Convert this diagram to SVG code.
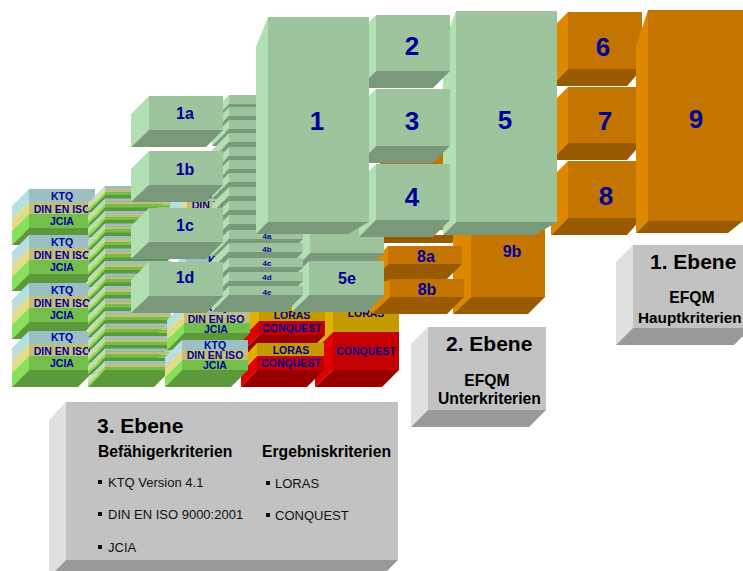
<svg xmlns="http://www.w3.org/2000/svg" width="743" height="571" viewBox="0 0 743 571">
<style>
text{font-family:"Liberation Sans",Arial,sans-serif;text-anchor:middle;font-weight:700;fill:#000099}
.gf{fill:#9DC49D}.gs{fill:#B2E0B2}.gb{fill:#7A997A}
.of{fill:#C47400}.os{fill:#E08700}.ob{fill:#995A00}
.yf{fill:#C2C2C2}.ys{fill:#E0E0E0}.yb{fill:#999999}
.kf{fill:#9CBFC4}.ks{fill:#B5DFE0}.df{fill:#C4BF77}.ds{fill:#E0DC88}.jf{fill:#74BF4B}.js{fill:#86E05A}.jb{fill:#5C993B}
.lf{fill:#C49A00}.ls{fill:#E0B000}.cf{fill:#C40000}.cs{fill:#E00000}.cb{fill:#990000}
.t26{font-size:26px}.t16{font-size:16px}.t8{font-size:8px}.t105{font-size:10.5px}
.h{font-size:21px;fill:#000;text-anchor:start}.s{font-size:15.7px;fill:#000}.st{font-size:15.7px;fill:#000;text-anchor:start}
.li{font-size:13px;font-weight:400;fill:#111;text-anchor:start}
.bu{fill:#111}
</style>
<defs>
<g id="thin">
<polygon class="ks" points="0,0 -17,17 -17,20 0,3"/><polygon class="ds" points="0,3 -17,20 -17,23 0,6"/><polygon class="js" points="0,6 -17,23 -17,26 0,9"/>
<polygon class="jb" points="0,9 66,9 49,26 -17,26"/>
<rect class="kf" width="66" height="3"/><rect class="df" y="3" width="66" height="3"/><rect class="jf" y="6" width="66" height="3"/>
</g>
<g id="big">
<polygon class="ks" points="0,0 -17,17 -17,30 0,13"/><polygon class="ds" points="0,13 -17,30 -17,42 0,25"/><polygon class="js" points="0,25 -17,42 -17,56 0,39"/>
<polygon class="jb" points="0,39 66,39 49,56 -17,56"/>
<rect class="kf" width="66" height="13"/><rect class="df" y="13" width="66" height="12"/><rect class="jf" y="25" width="66" height="14"/>
</g>
<g id="small">
<polygon class="ks" points="0,0 -17,17 -17,27 0,10"/><polygon class="ds" points="0,10 -17,27 -17,37 0,20"/><polygon class="js" points="0,20 -17,37 -17,47 0,30"/>
<polygon class="jb" points="0,30 66,30 49,47 -17,47"/>
<rect class="kf" width="66" height="10"/><rect class="df" y="10" width="66" height="10"/><rect class="jf" y="20" width="66" height="10"/>
</g>
<g id="gthin">
<polygon class="gs" points="0,0 -17,17 -17,26 0,9"/>
<polygon class="gb" points="0,9 74,9 57,26 -17,26"/>
<rect class="gf" width="74" height="9"/>
</g>
</defs>

<g id="column-1">
<g id="c1a"><use href="#big" x="29" y="189"/><text class="t105" x="62" y="200">KTQ</text><text class="t105" x="62" y="213">DIN EN ISO</text><text class="t105" x="62" y="225">JCIA</text></g>
<g id="c1b"><use href="#big" x="29" y="235"/><text class="t105" x="62" y="246">KTQ</text><text class="t105" x="62" y="259">DIN EN ISO</text><text class="t105" x="62" y="271">JCIA</text></g>
<g id="c1c"><use href="#big" x="29" y="283"/><text class="t105" x="62" y="294">KTQ</text><text class="t105" x="62" y="307">DIN EN ISO</text><text class="t105" x="62" y="319">JCIA</text></g>
<g id="c1d"><use href="#big" x="29" y="331"/><text class="t105" x="62" y="341">KTQ</text><text class="t105" x="62" y="355">DIN EN ISO</text><text class="t105" x="62" y="367">JCIA</text></g>
</g>

<g id="column-2">
<use href="#thin" x="105" y="186"/><use href="#thin" x="105" y="198.5"/><use href="#thin" x="105" y="211"/><use href="#thin" x="105" y="223.5"/><use href="#thin" x="105" y="236"/><use href="#thin" x="105" y="248.5"/><use href="#thin" x="105" y="261"/><use href="#thin" x="105" y="273.5"/><use href="#thin" x="105" y="286"/><use href="#thin" x="105" y="298.5"/><use href="#thin" x="105" y="311"/><use href="#thin" x="105" y="323.5"/><use href="#thin" x="105" y="336"/><use href="#thin" x="105" y="348.5"/><use href="#thin" x="105" y="361"/>
</g>

<g id="red-right">
<polygon class="ls" points="333,280 315,298 315,350 333,332"/><polygon class="cs" points="333,332 315,350 315,387 333,370"/>
<polygon class="cb" points="333,370 399,370 382,387 315,387"/>
<rect class="lf" x="333" y="280" width="66" height="52"/><rect class="cf" x="333" y="332" width="66" height="38"/>
<text class="t105" x="366" y="317">LORAS</text><text class="t105" x="366" y="355">CONQUEST</text>
</g>
<g id="red-upper">
<polygon class="ls" points="259,303 242,320 242,338 259,321"/><polygon class="cs" points="259,321 242,338 242,352 259,335"/>
<polygon class="cb" points="259,335 325,335 308,352 242,352"/>
<rect class="lf" x="259" y="303" width="66" height="18"/><rect class="cf" x="259" y="321" width="66" height="14"/>
<text class="t105" x="292" y="319">LORAS</text><text class="t105" x="292" y="332">CONQUEST</text>
</g>
<g id="red-lower">
<polygon class="ls" points="257,343 241,360 241,373 257,356"/><polygon class="cs" points="257,356 241,373 241,387 257,370"/>
<polygon class="cb" points="257,370 324,370 307,387 241,387"/>
<rect class="lf" x="257" y="343" width="67" height="13"/><rect class="cf" x="257" y="356" width="67" height="14"/>
<text class="t105" x="291" y="354">LORAS</text><text class="t105" x="291" y="367">CONQUEST</text>
</g>

<g id="column-3">
<g id="c3a"><use href="#big" x="187" y="187"/><text class="t105" x="220" y="198">KTQ</text><text class="t105" x="220" y="209">DIN EN ISO</text><text class="t105" x="220" y="223">JCIA</text></g>
<g id="c3b"><use href="#big" x="186" y="253"/><text class="t105" x="219" y="264">KTQ</text><text class="t105" x="219" y="277">DIN EN ISO</text><text class="t105" x="219" y="289">JCIA</text></g>
<g id="c3c"><use href="#small" x="184" y="303"/><text class="t105" x="216" y="311">KTQ</text><text class="t105" x="216" y="323">DIN EN ISO</text><text class="t105" x="216" y="333">JCIA</text></g>
<g id="c3d"><use href="#small" x="182" y="340"/><text class="t105" x="215" y="349">KTQ</text><text class="t105" x="215" y="359">DIN EN ISO</text><text class="t105" x="215" y="369">JCIA</text></g>
</g>

<g id="orange-back">
<rect class="of" x="380" y="140" width="64" height="90"/>
<polygon class="ob" points="384,235 460,235 452,243 384,243"/>
</g>
<g id="n9b">
<polygon class="os" points="471,218 453,235 453,314 471,297"/>
<polygon class="ob" points="471,297 545,297 528,314 453,314"/>
<rect class="of" x="471" y="218" width="74" height="79"/>
<text class="t16" x="512" y="257">9b</text>
</g>
<g id="n8a">
<polygon class="os" points="388,246 371,263 371,281 388,264"/>
<polygon class="ob" points="388,264 462,264 445,281 371,281"/>
<rect class="of" x="388" y="246" width="74" height="18"/>
<text class="t16" x="426" y="262">8a</text>
</g>
<g id="n8b">
<polygon class="os" points="390,279 372,296 372,314 390,297"/>
<polygon class="ob" points="390,297 464,297 447,314 372,314"/>
<rect class="of" x="390" y="279" width="74" height="18"/>
<text class="t16" x="427" y="295">8b</text>
</g>

<g id="n5d">
<polygon class="gs" points="310,200 293,217 293,270 310,253"/>
<polygon class="gb" points="310,253 384,253 367,270 293,270"/>
<rect class="gf" x="310" y="200" width="74" height="53"/>
</g>
<g id="n5e">
<polygon class="gs" points="309,261 292,278 292,312 309,295"/>
<polygon class="gb" points="309,295 384,295 367,312 292,312"/>
<rect class="gf" x="309" y="261" width="75" height="34"/>
<text class="t16" x="347" y="284">5e</text>
</g>

<g id="stack-4">
<use href="#gthin" x="229" y="95"/><use href="#gthin" x="229" y="107"/><use href="#gthin" x="229" y="120"/><use href="#gthin" x="229" y="133"/><use href="#gthin" x="229" y="147"/><use href="#gthin" x="229" y="160"/><use href="#gthin" x="229" y="173"/><use href="#gthin" x="229" y="187"/><use href="#gthin" x="229" y="201"/><use href="#gthin" x="229" y="215"/>
<g id="n4a"><use href="#gthin" x="229" y="230"/><text class="t8" x="267" y="239">4a</text></g>
<g id="n4b"><use href="#gthin" x="229" y="243"/><text class="t8" x="267" y="252">4b</text></g>
<g id="n4c"><use href="#gthin" x="229" y="258"/><text class="t8" x="267" y="266">4c</text></g>
<g id="n4d"><use href="#gthin" x="229" y="272"/><text class="t8" x="267" y="280">4d</text></g>
<g id="n4e"><use href="#gthin" x="229" y="286"/><text class="t8" x="267" y="295">4e</text></g>
</g>

<g id="n1a">
<polygon class="gs" points="149,96 131,114 131,147 149,130"/>
<polygon class="gb" points="149,130 223,130 206,147 131,147"/>
<rect class="gf" x="149" y="96" width="74" height="34"/>
<text class="t16" x="185" y="119">1a</text>
</g>
<g id="n1b">
<polygon class="gs" points="149,151 131,169 131,202 149,185"/>
<polygon class="gb" points="149,185 223,185 206,202 131,202"/>
<rect class="gf" x="149" y="151" width="74" height="34"/>
<text class="t16" x="185" y="175">1b</text>
</g>
<g id="n1c">
<polygon class="gs" points="149,208 131,226 131,259 149,242"/>
<polygon class="gb" points="149,242 223,242 206,259 131,259"/>
<rect class="gf" x="149" y="208" width="74" height="34"/>
<text class="t16" x="185" y="231">1c</text>
</g>
<g id="n1d">
<polygon class="gs" points="149,262 131,280 131,313 149,296"/>
<polygon class="gb" points="149,296 223,296 206,313 131,313"/>
<rect class="gf" x="149" y="262" width="74" height="34"/>
<text class="t16" x="185" y="283">1d</text>
</g>

<g id="n6">
<polygon class="os" points="568,12 551,29 551,86 568,69"/>
<polygon class="ob" points="568,69 642,69 627,86 551,86"/>
<rect class="of" x="568" y="12" width="74" height="57"/>
<text class="t26" x="603" y="56">6</text>
</g>
<g id="n7">
<polygon class="os" points="568,87 551,104 551,160 568,143"/>
<polygon class="ob" points="568,143 642,143 627,160 551,160"/>
<rect class="of" x="568" y="87" width="74" height="56"/>
<text class="t26" x="605" y="130">7</text>
</g>
<g id="n8">
<polygon class="os" points="568,161 551,178 551,235 568,218"/>
<polygon class="ob" points="568,218 642,218 627,235 551,235"/>
<rect class="of" x="568" y="161" width="74" height="57"/>
<text class="t26" x="606" y="205">8</text>
</g>
<g id="n9">
<polygon class="os" points="648,10 636,46 636,233 648,221"/>
<polygon class="ob" points="648,221 743,221 728,233 636,233"/>
<rect class="of" x="648" y="10" width="95" height="211"/>
<text class="t26" x="696" y="128">9</text>
</g>

<g id="n5">
<polygon class="gs" points="456,11 443,46 443,235 456,222"/>
<polygon class="gb" points="456,222 557,222 535,235 443,235"/>
<rect class="gf" x="456" y="11" width="101" height="211"/>
<text class="t26" x="505" y="129">5</text>
</g>
<g id="n2">
<polygon class="gs" points="376,15 359,32 359,88 376,71"/>
<polygon class="gb" points="376,71 450,71 433,88 359,88"/>
<rect class="gf" x="376" y="15" width="74" height="56"/>
<text class="t26" x="412" y="55">2</text>
</g>
<g id="n3">
<polygon class="gs" points="376,89 359,106 359,163 376,146"/>
<polygon class="gb" points="376,146 450,146 433,163 359,163"/>
<rect class="gf" x="376" y="89" width="74" height="57"/>
<text class="t26" x="412" y="130">3</text>
</g>
<g id="n4">
<polygon class="gs" points="376,164 359,181 359,237 376,220"/>
<polygon class="gb" points="376,220 450,220 433,237 359,237"/>
<rect class="gf" x="376" y="164" width="74" height="56"/>
<text class="t26" x="412" y="206">4</text>
</g>
<g id="n1">
<polygon class="gs" points="268,17 256,47 256,234 268,222"/>
<polygon class="gb" points="268,222 369,222 348,234 256,234"/>
<rect class="gf" x="268" y="17" width="101" height="205"/>
<text class="t26" x="317" y="130">1</text>
</g>

<g id="ebene-1">
<polygon class="ys" points="633,245 616,262 616,345 633,328"/>
<polygon class="yb" points="633,328 751,328 734,345 616,345"/>
<rect class="yf" x="633" y="245" width="110" height="83"/>
<text class="h" x="650" y="269">1. Ebene</text>
<text class="s" x="692" y="303">EFQM</text>
<text class="st" x="638" y="323" style="font-size:15.3px">Hauptkriterien</text>
</g>
<g id="ebene-2">
<polygon class="ys" points="428,327 411,344 411,427 428,410"/>
<polygon class="yb" points="428,410 546,410 529,427 411,427"/>
<rect class="yf" x="428" y="327" width="118" height="83"/>
<text class="h" x="446" y="351">2. Ebene</text>
<text class="s" x="487" y="386">EFQM</text>
<text class="st" x="438" y="404">Unterkriterien</text>
</g>
<g id="ebene-3">
<polygon class="ys" points="66,402 49,420 49,577 66,560"/>
<polygon class="yb" points="66,560 398,560 381,577 49,577"/>
<rect class="yf" x="66" y="402" width="332" height="158"/>
<text class="h" x="97" y="433">3. Ebene</text>
<text class="st" x="98" y="457">Befähigerkriterien</text>
<text class="st" x="262" y="457">Ergebniskriterien</text>
<rect class="bu" x="98" y="480" width="4" height="4"/><text class="li" x="108" y="487">KTQ Version 4.1</text>
<rect class="bu" x="98" y="512" width="4" height="4"/><text class="li" x="108" y="519">DIN EN ISO 9000:2001</text>
<rect class="bu" x="98" y="545" width="4" height="4"/><text class="li" x="108" y="552">JCIA</text>
<rect class="bu" x="266" y="481" width="4" height="4"/><text class="li" x="275" y="488">LORAS</text>
<rect class="bu" x="266" y="513" width="4" height="4"/><text class="li" x="275" y="520">CONQUEST</text>
</g>
</svg>
